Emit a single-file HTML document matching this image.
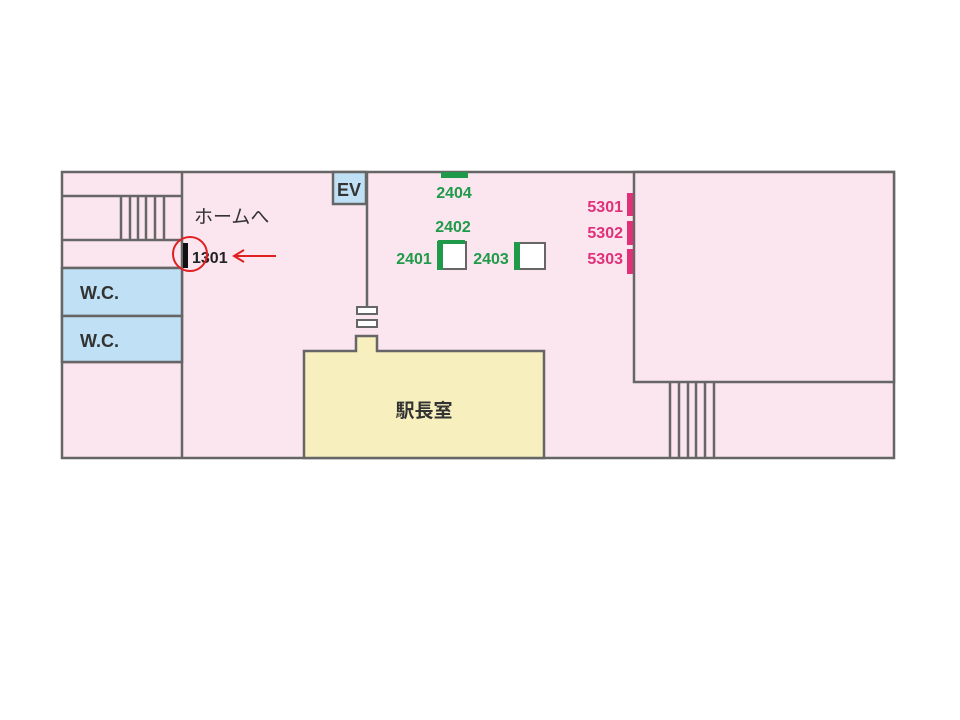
<!DOCTYPE html>
<html><head><meta charset="utf-8"><style>body{margin:0;background:#fff}svg{display:block}</style></head><body>
<svg width="960" height="720" viewBox="0 0 960 720" xmlns="http://www.w3.org/2000/svg" font-family="'Liberation Sans','Noto Sans CJK JP',sans-serif">
<rect x="62" y="172" width="832" height="286" fill="#fbe5ee" stroke="#666" stroke-width="2.5"/>
<g stroke="#666" stroke-width="2.5" fill="none">
<line x1="182" y1="172" x2="182" y2="458"/>
<line x1="62" y1="196" x2="182" y2="196"/>
<line x1="62" y1="240" x2="182" y2="240"/>
<line x1="62" y1="268" x2="182" y2="268"/>
<line x1="62" y1="362" x2="182" y2="362"/>
<line x1="121" y1="196" x2="121" y2="240"/><line x1="130" y1="196" x2="130" y2="240"/><line x1="138" y1="196" x2="138" y2="240"/><line x1="146" y1="196" x2="146" y2="240"/><line x1="155" y1="196" x2="155" y2="240"/><line x1="164" y1="196" x2="164" y2="240"/>
<line x1="367" y1="172" x2="367" y2="306"/>
<rect x="634" y="172" width="260" height="210" fill="#fbe5ee"/>
<line x1="670" y1="382" x2="670" y2="458"/><line x1="679" y1="382" x2="679" y2="458"/><line x1="688" y1="382" x2="688" y2="458"/><line x1="696" y1="382" x2="696" y2="458"/><line x1="705" y1="382" x2="705" y2="458"/><line x1="714" y1="382" x2="714" y2="458"/>
</g>
<rect x="62" y="268" width="120" height="48" fill="#bfe0f5" stroke="#666" stroke-width="2.5"/>
<rect x="62" y="316" width="120" height="46" fill="#bfe0f5" stroke="#666" stroke-width="2.5"/>
<rect x="333" y="172" width="33" height="32" fill="#bfe0f5" stroke="#666" stroke-width="2.5"/>
<text x="349" y="196" font-size="18" text-anchor="middle" fill="#333" font-weight="bold">EV</text>
<rect x="357" y="307" width="20" height="7" fill="#fff" stroke="#666" stroke-width="2"/>
<rect x="357" y="320" width="20" height="7" fill="#fff" stroke="#666" stroke-width="2"/>
<polygon points="304,458 304,351 356,351 356,336 377,336 377,351 544,351 544,458" fill="#f7efbe" stroke="#666" stroke-width="2.5"/>
<text x="424" y="417" font-size="19" text-anchor="middle" fill="#333" font-weight="bold">駅長室</text>
<text x="80" y="299" font-size="18" fill="#333" font-weight="bold">W.C.</text>
<text x="80" y="347" font-size="18" fill="#333" font-weight="bold">W.C.</text>
<text x="194" y="223" font-size="19" fill="#333">ホームへ</text>
<rect x="183" y="243" width="5" height="25" fill="#111"/>
<text x="192" y="263" font-size="16" font-weight="bold" fill="#222">1301</text>
<circle cx="190" cy="254" r="17" fill="none" stroke="#e02020" stroke-width="2"/>
<line x1="276" y1="256" x2="236" y2="256" stroke="#e02020" stroke-width="2"/>
<polyline points="244,250 234,256 244,262" fill="none" stroke="#e02020" stroke-width="2"/>
<g fill="#1f9a4a" font-size="16" font-weight="bold" text-anchor="middle">
<rect x="441" y="172" width="27" height="6" stroke="none"/>
<text x="454" y="198">2404</text>
<text x="453" y="232">2402</text>
<text x="414" y="264">2401</text>
<text x="491" y="264">2403</text>
</g>
<rect x="441" y="242" width="25" height="27" fill="#fff" stroke="#666" stroke-width="2"/>
<rect x="438" y="240" width="27" height="4" fill="#1f9a4a"/>
<rect x="437" y="241" width="6" height="29" fill="#1f9a4a"/>
<rect x="517" y="243" width="28" height="26" fill="#fff" stroke="#666" stroke-width="2"/>
<rect x="514" y="242" width="6" height="28" fill="#1f9a4a"/>
<g fill="#e0307a" font-size="16" font-weight="bold" text-anchor="end">
<text x="623" y="212">5301</text><text x="623" y="238">5302</text><text x="623" y="264">5303</text>
<rect x="627" y="193" width="6" height="23"/><rect x="627" y="221" width="6" height="24"/><rect x="627" y="249" width="6" height="25"/>
</g>
</svg>
</body></html>
